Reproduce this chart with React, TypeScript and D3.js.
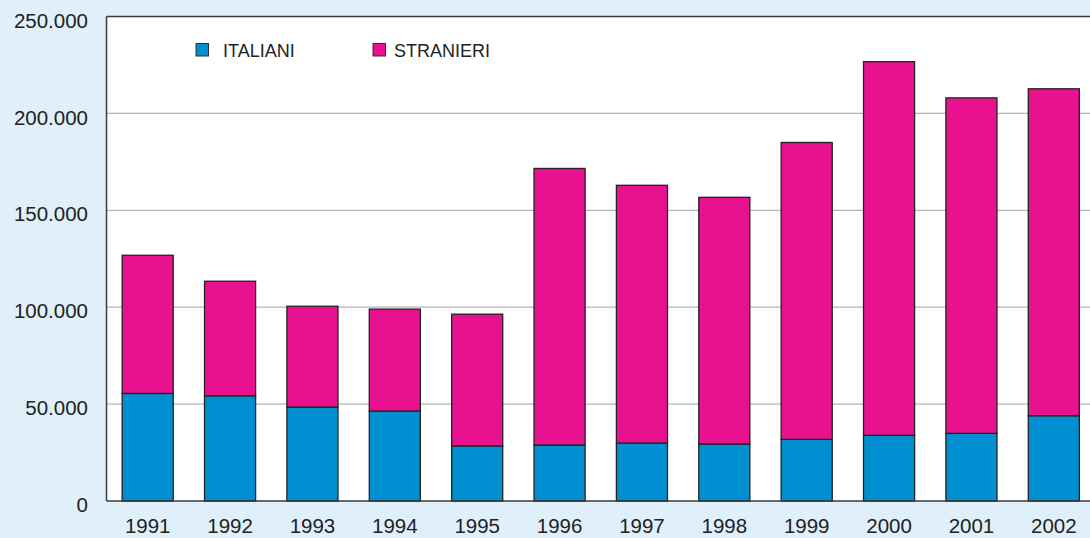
import React, { useEffect, useRef } from 'react';
import * as d3 from 'd3';

const years = ['1991', '1992', '1993', '1994', '1995', '1996', '1997', '1998', '1999', '2000', '2001', '2002'];
const italiani = [55500, 54300, 48500, 46400, 28400, 28900, 29900, 29400, 31800, 33900, 34900, 44000];
const totali = [126800, 113400, 100500, 99000, 96400, 171600, 162900, 156700, 185000, 226700, 208000, 212700];
const stranieri = totali.map((t, i) => t - italiani[i]);
const yTicks = [0, 50000, 100000, 150000, 200000, 250000];
const seriesNames = ['ITALIANI', 'STRANIERI'];
const seriesColors = ['#008fd0', '#e8118f'];

const App = () => {
    const ref = useRef<SVGSVGElement>(null);

    useEffect(() => {
        const svg = d3.select(ref.current);
        svg.selectAll('*').remove();

        const left = 106.5, top = 16.5, right = 1095, bottom = 501;
        const font = 'Liberation Sans, Arial, sans-serif';

        svg.append('rect').attr('width', 1090).attr('height', 538).attr('fill', '#dff0fb');

        const x = d3.scaleBand().domain(years).range([left, right]).paddingInner(0.38).paddingOuter(0.19);
        const y = d3.scaleLinear().domain([0, 250000]).range([bottom, top]);

        // plot background
        svg.append('rect').attr('x', left).attr('y', top).attr('width', right - left).attr('height', bottom - top).attr('fill', '#fff');

        // gridlines
        svg.append('g').selectAll('line').data(yTicks.slice(1, -1)).enter().append('line')
            .attr('x1', left).attr('x2', right)
            .attr('y1', d => y(d)).attr('y2', d => y(d))
            .attr('stroke', '#b4b4b4').attr('stroke-width', 1.2);

        // y labels
        svg.append('g').selectAll('text').data(yTicks).enter().append('text')
            .attr('x', 88).attr('y', d => y(d) + 4).attr('dy', '0.35em')
            .attr('text-anchor', 'end')
            .style('font-family', font).style('font-size', '20.5px').attr('fill', '#222')
            .text(d => d === 0 ? '0' : d3.format(',')(d).replace(/,/g, '.'));

        // stacked bars
        const stack = years.map((yr, i) => [
            { yr, y0: 0, y1: italiani[i], c: seriesColors[0] },
            { yr, y0: italiani[i], y1: italiani[i] + stranieri[i], c: seriesColors[1] },
        ]).flat();
        svg.append('g').selectAll('rect').data(stack).enter().append('rect')
            .attr('x', d => x(d.yr)!).attr('width', x.bandwidth())
            .attr('y', d => y(d.y1)).attr('height', d => y(d.y0) - y(d.y1))
            .attr('fill', d => d.c).attr('stroke', '#222').attr('stroke-width', 1.3);

        // frame
        svg.append('line').attr('x1', left).attr('x2', 1090).attr('y1', top).attr('y2', top).attr('stroke', '#3a3a3a').attr('stroke-width', 1.5);
        svg.append('line').attr('x1', left).attr('x2', left).attr('y1', top).attr('y2', bottom).attr('stroke', '#3a3a3a').attr('stroke-width', 1.5);
        svg.append('line').attr('x1', left).attr('x2', 1090).attr('y1', bottom).attr('y2', bottom).attr('stroke', '#3a3a3a').attr('stroke-width', 1.5);

        // x labels
        svg.append('g').selectAll('text').data(years).enter().append('text')
            .attr('x', d => x(d)! + x.bandwidth() / 2).attr('y', 533)
            .attr('text-anchor', 'middle')
            .style('font-family', font).style('font-size', '20.5px').attr('fill', '#222')
            .text(d => d);

        // legend
        const lx = [196, 373];
        const tx = [223, 394];
        seriesNames.forEach((name, i) => {
            svg.append('rect').attr('x', lx[i]).attr('y', 43.5).attr('width', 12.5).attr('height', 12.5)
                .attr('fill', seriesColors[i]).attr('stroke', '#333').attr('stroke-width', 1);
            svg.append('text').attr('x', tx[i]).attr('y', 57)
                .style('font-family', font).style('font-size', '18px').attr('fill', '#222')
                .text(name);
        });
    }, []);

    return <svg ref={ref} width={1090} height={538} style={{ display: 'block', position: 'absolute', left: 0, top: 0 }} />;
};

export default App;
